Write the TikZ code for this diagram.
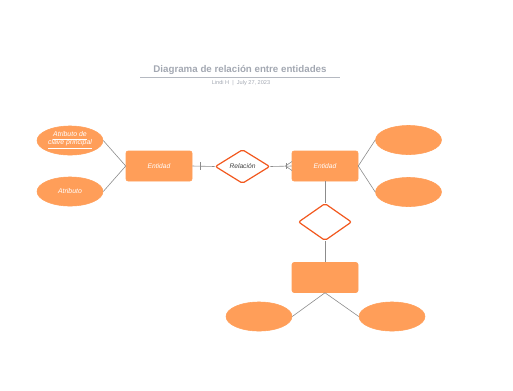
\documentclass[tikz,border=0pt]{standalone}
\usepackage{fontspec}
\setmainfont{Liberation Sans}
\usetikzlibrary{shapes.geometric}
\definecolor{ent}{HTML}{FF9E59}
\definecolor{rel}{HTML}{F2581E}
\definecolor{ttl}{HTML}{A3A8B2}
\definecolor{ln}{HTML}{8C8C8C}
\tikzset{
  entbox/.style={draw=ent, fill=ent, rounded corners=1.5pt, minimum width=49.5pt, minimum height=22.5pt, inner sep=0pt, font=\fontsize{5}{5.5}\selectfont\itshape, text=white},
  attr/.style={ellipse, draw=ent, fill=ent, minimum width=49.5pt, minimum height=21.8pt, inner sep=0pt, font=\fontsize{5.2}{6}\selectfont\itshape, text=white, align=center},
  relbox/.style={diamond, draw=rel, line width=0.9pt, fill=white, rounded corners=1.5pt, aspect=1.6, inner sep=0pt, font=\fontsize{5}{5.5}\selectfont\itshape, text=black!75},
  conn/.style={draw=ln, line width=0.45pt}
}
\begin{document}
\begin{tikzpicture}[x=0.75pt,y=-0.75pt]
\useasboundingbox (0,0) rectangle (513,390);
% title
\node[font=\fontsize{7.3}{8}\selectfont\bfseries, text=ttl] (title) at (240,70) {Diagrama de relación entre entidades};
\coordinate (tl) at (140,77);
\coordinate (tr) at (340,77);
\draw[draw=ttl!80, line width=0.5pt] (tl) -- (tr);
\node[font=\fontsize{4.2}{4.8}\selectfont, text=ttl] (sub) at (241,83) {Lindi H \ | \ July 27, 2023};
% nodes
\node[entbox] (e1) at (159,166) {Entidad};
\node[relbox, minimum width=41pt, minimum height=25.5pt] (r1) at (242.5,166.5) {Relación};
\node[entbox] (e2) at (325,166) {Entidad};
\node[attr] (a1) at (70,140.5) {\underline{Atributo de}\\\underline{clave principal}};
\node[attr] (a2) at (70,191.5) {Atributo};
\node[attr] (a3) at (408.5,140) {};
\node[attr] (a4) at (408.5,192) {};
\node[relbox, minimum width=40pt, minimum height=28pt] (r2) at (325,222) {};
\node[entbox] (e3) at (325,277.5) {};
\node[attr] (a5) at (259,316.5) {};
\node[attr] (a6) at (392,316.5) {};
% connectors
\draw[conn] (a1.east) -- (e1.west);
\draw[conn] (a2.east) -- (e1.west);
\draw[conn] (e2.east) -- (a3.west);
\draw[conn] (e2.east) -- (a4.west);
\draw[conn] (e3.south) -- (a5.east);
\draw[conn] (e3.south) -- (a6.west);
\draw[conn] (e2.south) -- (r2.north);
\draw[conn] (r2.south) -- (e3.north);
\draw[conn] (e1.east) -- (r1.west);
\draw[conn] (r1.east) -- (e2.west);
% one mark
\coordinate (b1) at (200,162);
\coordinate (b2) at (200,170);
\draw[conn] (b1) -- (b2);
% crow's foot
\coordinate (cf) at (285.5,166);
\coordinate (c1) at (292,161.5);
\coordinate (c2) at (292,170.5);
\draw[conn] (c1) -- (cf) -- (c2);
\coordinate (cb1) at (286,163);
\coordinate (cb2) at (286,169);
\draw[conn] (cb1) -- (cb2);
\end{tikzpicture}
\end{document}
